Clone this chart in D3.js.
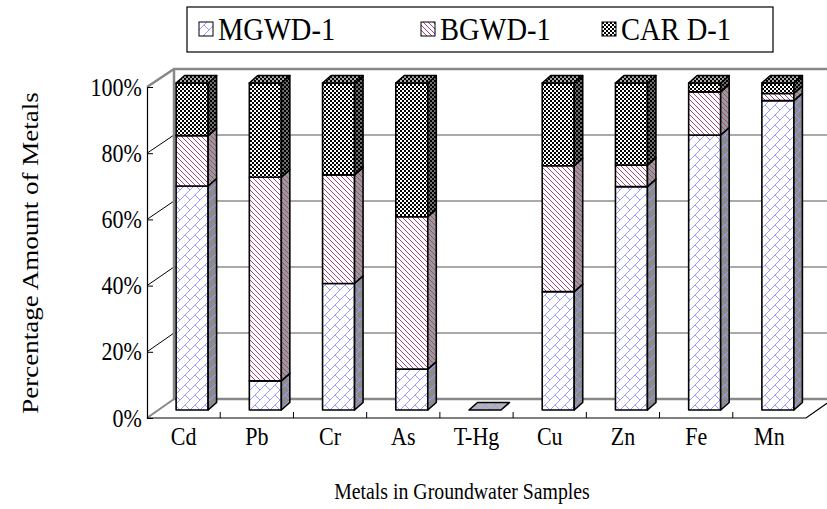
<!DOCTYPE html>
<html>
<head>
<meta charset="utf-8">
<script src="https://cdn.jsdelivr.net/npm/d3@7"></script>
<style>
  body { margin: 0; background: #fff; }
  svg text { font-family: 'Liberation Serif', 'Times New Roman', serif; fill: #000; }
</style>
</head>
<body>
<svg id="svg" width="827" height="509"></svg>
<script>
const categories = ['Cd', 'Pb', 'Cr', 'As', 'T-Hg', 'Cu', 'Zn', 'Fe', 'Mn']
const seriesNames = ['MGWD-1', 'BGWD-1', 'CAR D-1']
const mgwd = [68.5, 8.9, 38.7, 12.5, 0, 36.2, 68.3, 84.1, 94.6]
const bgwd = [15.4, 62.3, 33.2, 46.6, 0, 38.5, 6.6, 13.2, 2.2]
const card = [16.1, 28.8, 28.1, 40.9, 0, 25.3, 25.1, 2.7, 3.2]
const yTicks = [0, 0.2, 0.4, 0.6, 0.8, 1]

const SX = 0.88 // picture is squeezed a little horizontally
const WALL_DX = 27
const BAR_DX = 8.5
const BAR_DY = -7.5
const BAR_W = 32

const svg = d3.select('svg')
const defs = svg.append('defs')

// one pattern per series and face (front / side / top)
function brick (id, bg) {
  const p = defs.append('pattern').attr('id', id)
    .attr('patternUnits', 'userSpaceOnUse').attr('width', 10).attr('height', 10)
  p.append('rect').attr('width', 10).attr('height', 10).attr('fill', bg)
  p.append('path').attr('d', 'M0,10 L10,0 M5,5 L10,10 M-1,1 L1,-1 M9,11 L11,9')
    .attr('stroke', '#9a9aff').attr('stroke-width', 1).attr('fill', 'none')
}
function diag (id, bg) {
  const p = defs.append('pattern').attr('id', id)
    .attr('patternUnits', 'userSpaceOnUse').attr('width', 5).attr('height', 5)
  p.append('rect').attr('width', 5).attr('height', 5).attr('fill', bg)
  p.append('path').attr('d', 'M0,0 L5,5 M-1,4 L1,6 M4,-1 L6,1')
    .attr('stroke', '#a3467a').attr('stroke-width', 1).attr('fill', 'none')
}
function checker (id, light) {
  const p = defs.append('pattern').attr('id', id)
    .attr('patternUnits', 'userSpaceOnUse').attr('width', 4).attr('height', 4)
  p.append('rect').attr('width', 4).attr('height', 4).attr('fill', '#000')
  p.append('rect').attr('width', 2).attr('height', 2).attr('fill', light)
  p.append('rect').attr('x', 2).attr('y', 2).attr('width', 2).attr('height', 2).attr('fill', light)
}
brick('p0f', '#fff'); brick('p0s', '#8c8c8c'); brick('p0t', '#b4b4b4')
diag('p1f', '#fff'); diag('p1s', '#9a9a9a'); diag('p1t', '#c8c8c8')
checker('p2f', '#fff'); checker('p2s', '#707070'); checker('p2t', '#a8a8a8')

const x = d3.scaleBand().domain(categories).range([147, 806])
const bw = x.bandwidth()
const yAxis = d3.scaleLinear().domain([0, 1]).range([418, 87])
const yWall = d3.scaleLinear().domain([0, 1]).range([399, 69])
const yBar = d3.scaleLinear().domain([0, 1]).range([410, 83])

const table = categories.map((c, i) => ({ cat: c, 'MGWD-1': mgwd[i], 'BGWD-1': bgwd[i], 'CAR D-1': card[i] }))
const stacked = d3.stack().keys(seriesNames).offset(d3.stackOffsetExpand)(table)

// back wall + grid
const x0 = x.range()[0]
const x1 = x.range()[1]
svg.append('g').selectAll('line.grid')
  .data(yTicks.slice(1, -1))
  .join('line')
  .attr('x1', x0 + WALL_DX).attr('x2', x1 + WALL_DX)
  .attr('y1', d => yWall(d)).attr('y2', d => yWall(d))
  .attr('stroke', '#555').attr('stroke-width', 1.2)
svg.append('g').selectAll('line.diag')
  .data(yTicks.slice(1, -1))
  .join('line')
  .attr('x1', x0).attr('x2', x0 + WALL_DX)
  .attr('y1', d => yAxis(d)).attr('y2', d => yWall(d))
  .attr('stroke', '#000').attr('stroke-width', 1)

const wall = svg.append('g').attr('fill', 'none').attr('stroke', '#888').attr('stroke-width', 2.5)
wall.append('path').attr('d', `M${x0},${yAxis(1)} L${x0 + WALL_DX},${yWall(1)} L${x1 + WALL_DX},${yWall(1)}`)
wall.append('path').attr('d', `M${x0 + WALL_DX},${yWall(1)} L${x0 + WALL_DX},${yWall(0)} L${x1 + WALL_DX},${yWall(0)}`)
svg.append('path')
  .attr('d', `M${x0},${yAxis(0)} L${x0 + WALL_DX},${yWall(0)}`)
  .attr('stroke', '#888').attr('stroke-width', 2).attr('fill', 'none')

// floor front edge + right edge
svg.append('path')
  .attr('d', `M${x0},${yAxis(0)} L${x1},${yAxis(0)} L${x1 + WALL_DX},${yWall(0)}`)
  .attr('stroke', '#000').attr('stroke-width', 1.2).attr('fill', 'none')

// category ticks (pointing up into the floor)
svg.append('g').selectAll('line')
  .data(categories.slice(1))
  .join('line')
  .attr('x1', d => x(d)).attr('x2', d => x(d))
  .attr('y1', yAxis(0)).attr('y2', yAxis(0) - 6)
  .attr('stroke', '#000')

// bars
const bars = svg.append('g').attr('stroke', '#000').attr('stroke-width', 1.6).attr('stroke-linejoin', 'round')
categories.forEach((c, j) => {
  const left = x(c) + bw / 2 + BAR_DX - BAR_W / 2
  const right = left + BAR_W
  const g = bars.append('g')
  let topIdx = 0
  stacked.forEach((s, i) => {
    const [v0, v1] = s[j]
    if (!(v1 > v0)) return
    topIdx = i
    const yb = yBar(v0)
    const yt = yBar(v1)
    g.append('rect')
      .attr('x', left).attr('y', yt).attr('width', BAR_W).attr('height', yb - yt)
      .attr('fill', `url(#p${i}f)`)
    g.append('path')
      .attr('d', `M${right},${yb} L${right + BAR_DX},${yb + BAR_DY} L${right + BAR_DX},${yt + BAR_DY} L${right},${yt}Z`)
      .attr('fill', `url(#p${i}s)`)
  })
  const vt = stacked[topIdx][j][1] || 0
  const yt = yBar(vt)
  g.append('path')
    .attr('d', `M${left},${yt} L${right},${yt} L${right + BAR_DX},${yt + BAR_DY} L${left + BAR_DX},${yt + BAR_DY}Z`)
    .attr('fill', `url(#p${topIdx}t)`)
})

// y axis
const ya = svg.append('g')
  .attr('transform', `translate(${x0},0)`)
  .call(d3.axisLeft(yAxis).tickValues(yTicks).tickFormat(d3.format('.0%'))
    .tickSizeInner(-6).tickSizeOuter(0).tickPadding(6))
ya.select('.domain').attr('stroke', '#000').attr('stroke-width', 1.2)
ya.selectAll('.tick line').attr('stroke', '#000')
ya.selectAll('text')
  .attr('font-size', 25).attr('font-family', null).attr('fill', '#000')
  .attr('transform', `scale(${SX},1)`)

// category labels
const xa = svg.append('g')
  .attr('transform', `translate(0,${yAxis(0)})`)
  .call(d3.axisBottom(x).tickSize(0).tickPadding(9))
xa.select('.domain').remove()
xa.selectAll('text')
  .attr('font-size', 25).attr('font-family', null).attr('fill', '#000')
  .attr('transform', `scale(${SX},1)`)

// axis titles
svg.append('text')
  .attr('transform', `translate(462,499) scale(${SX},1)`)
  .attr('text-anchor', 'middle').attr('font-size', 22.5)
  .text('Metals in Groundwater Samples')
svg.append('text')
  .attr('transform', `translate(38,253) scale(${SX},1) rotate(-90)`)
  .attr('text-anchor', 'middle').attr('font-size', 27)
  .text('Percentage Amount of Metals')

// legend
const legend = svg.append('g')
legend.append('rect')
  .attr('x', 187).attr('y', 7).attr('width', 586).attr('height', 45)
  .attr('fill', '#fff').attr('stroke', '#000').attr('stroke-width', 1.2)
const legX = [199, 421, 602]
seriesNames.forEach((name, i) => {
  const lg = legend.append('g').attr('transform', `translate(${legX[i]},0)`)
  lg.append('rect').attr('x', 0).attr('y', 22).attr('width', 14).attr('height', 14)
    .attr('fill', `url(#p${i}f)`).attr('stroke', '#000').attr('stroke-width', 1)
  lg.append('text')
    .attr('transform', `translate(19,40) scale(0.92,1)`)
    .attr('font-size', 31)
    .text(name)
})
</script>
</body>
</html>
